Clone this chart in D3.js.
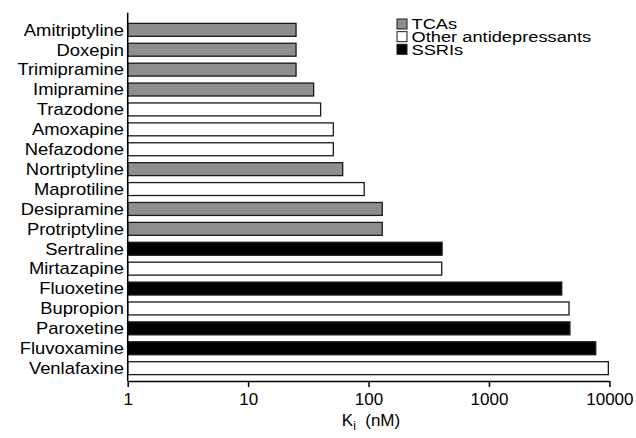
<!DOCTYPE html>
<html lang="en">
<head>
<meta charset="utf-8">
<title>Ki chart</title>
<script src="https://cdn.jsdelivr.net/npm/d3@7"></script>
<style>
    body { margin: 0; background: #fff; }
    text { font-family: "Liberation Sans", Arial, sans-serif; fill: #000; }
    .ylab { font-size: 16px; }
    .xaxis text { font-size: 17px; }
    .xaxis path, .xaxis line { stroke: #000; stroke-width: 1.5; }
    .legend text { font-size: 14.5px; }
</style>
</head>
<body>
<div id="chart"></div>
<script>

// data
var drugs = ["Amitriptyline", "Doxepin", "Trimipramine", "Imipramine", "Trazodone",
    "Amoxapine", "Nefazodone", "Nortriptyline", "Maprotiline", "Desipramine",
    "Protriptyline", "Sertraline", "Mirtazapine", "Fluoxetine", "Bupropion",
    "Paroxetine", "Fluvoxamine", "Venlafaxine"];
var kiValues = [25, 25, 25, 35, 40, 51, 51, 61, 92, 130, 130, 408, 405, 4020, 4620, 4700, 7700, 9800];
var drugClass = ["TCA", "TCA", "TCA", "TCA", "Other", "Other", "Other", "TCA", "Other", "TCA",
    "TCA", "SSRI", "Other", "SSRI", "Other", "SSRI", "SSRI", "Other"];
var legendLabels = ["TCAs", "Other antidepressants", "SSRIs"];
var legendKeys = ["TCA", "Other", "SSRI"];
var xTicks = [1, 10, 100, 1000, 10000];

var fills = { TCA: "#8e8e8e", Other: "#ffffff", SSRI: "#000000" };

var width = 636, height = 438;

var svg = d3.select("#chart").append("svg")
    .attr("width", width)
    .attr("height", height);

var x = d3.scaleLog()
    .domain([1, 10000])
    .range([127.7, 609.4]);

var y = d3.scaleBand()
    .domain(drugs)
    .range([17, 381])
    .paddingInner(0.35)
    .paddingOuter(0.32);

var rows = drugs.map(function (d, i) {
    return { name: d, ki: kiValues[i], cls: drugClass[i] };
});

// bars
svg.selectAll(".bar")
    .data(rows)
    .enter()
    .append("rect")
    .attr("class", "bar")
    .attr("x", x(1))
    .attr("y", function (d) { return y(d.name); })
    .attr("width", function (d) { return x(d.ki) - x(1); })
    .attr("height", y.bandwidth())
    .style("fill", function (d) { return fills[d.cls]; })
    .style("stroke", "#1a1a1a")
    .style("stroke-width", 1.3);

// y labels (glyphs in the original are a bit wide, so stretch them)
svg.selectAll(".ylab")
    .data(rows)
    .enter()
    .append("text")
    .attr("class", "ylab")
    .attr("transform", function (d) {
        return "translate(124," + (y(d.name) + y.bandwidth() / 2 + 5.8) + ") scale(1.15,1)";
    })
    .attr("text-anchor", "end")
    .text(function (d) { return d.name; });

// y axis line
svg.append("line")
    .attr("x1", x(1)).attr("x2", x(1))
    .attr("y1", 12.7).attr("y2", 381)
    .style("stroke", "#000")
    .style("stroke-width", 1.5);

// x axis
var xAxis = svg.append("g")
    .attr("class", "xaxis")
    .attr("transform", "translate(0,381)")
    .call(d3.axisBottom(x)
        .tickValues(xTicks)
        .tickSize(6)
        .tickSizeOuter(0)
        .tickPadding(6)
        .tickFormat(d3.format("d")));
xAxis.selectAll("text").style("font-family", "'Liberation Sans', Arial, sans-serif");

// axis title
var title = svg.append("text")
    .attr("x", 371)
    .attr("y", 425.5)
    .attr("text-anchor", "middle")
    .style("font-size", "17px")
    .attr("xml:space", "preserve");
title.append("tspan").text("K");
title.append("tspan").attr("dy", 4).style("font-size", "12px").text("i");
title.append("tspan").attr("dy", -4).text("  (nM)");

// legend
var legend = svg.append("g").attr("class", "legend");
legendKeys.forEach(function (k, i) {
    legend.append("rect")
        .attr("x", 397)
        .attr("y", 19 + i * 12.65)
        .attr("width", 10)
        .attr("height", 10)
        .style("fill", fills[k])
        .style("stroke", "#1a1a1a")
        .style("stroke-width", 1);
    legend.append("text")
        .attr("transform", "translate(411.5," + (29.3 + i * 12.65) + ") scale(1.26,1)")
        .text(legendLabels[i]);
});

</script>
</body>
</html>
